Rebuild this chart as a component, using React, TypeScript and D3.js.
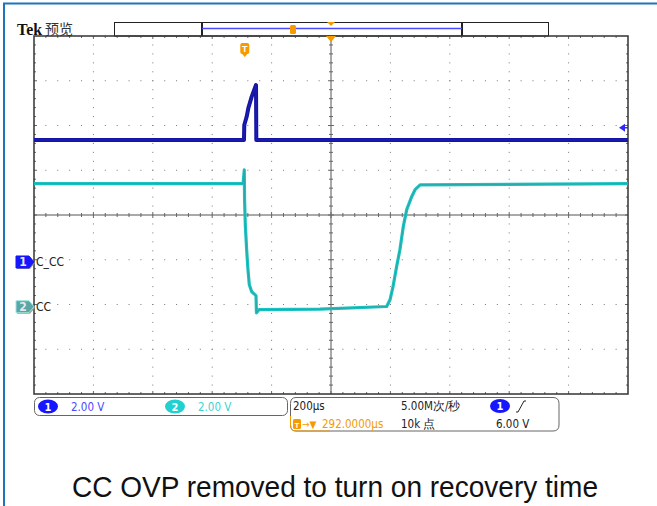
import React from "react";
import * as d3 from "d3";

// ---- data (time in µs relative to screen centre, volts) ----
const ch1Time = [-1000, -293, -292, -284, -278.5, -267, -252.5, -251.5, 1000];
const ch1Volt = [5.45, 5.45, 6.12, 6.49, 6.87, 7.39, 7.91, 5.45, 5.45];

const ch2Time = [-1000, -296, -292, -291, -288.5, -284, -279.5, -275, -267, -256, -252.5, -251, -242.5, -37, 187.5, 198.7, 209, 221, 232, 243.5, 255, 272, 283, 300, 1000];
const ch2Volt = [5.5, 5.5, 6.12, 4.78, 3.66, 2.55, 1.65, 0.98, 0.67, 0.54, 0.49, -0.27, -0.13, -0.11, 0.01, 0.31, 0.91, 1.8, 2.55, 3.59, 4.34, 4.93, 5.23, 5.45, 5.5];

const channelNames = ["C_CC", "CC"];
const voltsPerDiv = [2.0, 2.0];
const channelPosDiv = [-1.05, -2.05];
const triggerLevel = 6.0;
const triggerTimeUs = -292;
const timeDomain = [-1000, 1000];
const statusTexts = {
  ch1Scale: "2.00 V",
  ch2Scale: "2.00 V",
  timebase: "200µs",
  trigPos: "292.0000µs",
  sampleRate: "5.00M次/秒",
  record: "10k 点",
  trigLevel: "6.00 V",
};
const caption = "CC OVP removed to turn on recovery time";

const L = 34, R = 628, T = 36, B = 394;
const xDivs = 10, yDivs = 8;

export default function App() {
  const x = d3.scaleLinear().domain(timeDomain).range([L, R]);
  const yDiv = d3.scaleLinear().domain([-yDivs / 2, yDivs / 2]).range([B, T]);
  const yCh = (ch: number) => (v: number) => yDiv(v / voltsPerDiv[ch] + channelPosDiv[ch]);
  const y1 = yCh(0), y2 = yCh(1);

  const line1 = d3.line<number>().x((_, i) => x(ch1Time[i])).y((v) => y1(v));
  const line2 = d3.line<number>().x((_, i) => x(ch2Time[i])).y((v) => y2(v));

  const dx = (R - L) / xDivs;
  const dy = (B - T) / yDivs;
  const cx = (L + R) / 2;
  const cy = (T + B) / 2;

  const dots: JSX.Element[] = [];
  for (let k = 1; k < xDivs; k++) {
    if (k === xDivs / 2) continue;
    const gx = L + k * dx;
    for (let j = 1; j < yDivs * 5; j++) {
      dots.push(<rect key={`v${k}-${j}`} x={gx - 0.5} y={T + (j * dy) / 5 - 0.5} width={1} height={1} fill="#777" />);
    }
  }
  for (let k = 1; k < yDivs; k++) {
    if (k === yDivs / 2) continue;
    const gy = T + k * dy;
    for (let j = 1; j < xDivs * 5; j++) {
      dots.push(<rect key={`h${k}-${j}`} x={L + (j * dx) / 5 - 0.5} y={gy - 0.5} width={1} height={1} fill="#777" />);
    }
  }
  const ticks: JSX.Element[] = [];
  for (let j = 1; j < xDivs * 5; j++) {
    const tx = L + (j * dx) / 5;
    const len = j % 5 === 0 ? 3 : 2;
    ticks.push(<line key={`ct${j}`} x1={tx} x2={tx} y1={cy - len} y2={cy + len} stroke="#666" />);
    ticks.push(<line key={`tt${j}`} x1={tx} x2={tx} y1={T} y2={T + len} stroke="#666" />);
    ticks.push(<line key={`bt${j}`} x1={tx} x2={tx} y1={B - len} y2={B} stroke="#666" />);
  }
  for (let j = 1; j < yDivs * 5; j++) {
    const ty = T + (j * dy) / 5;
    const len = j % 5 === 0 ? 3 : 2;
    ticks.push(<line key={`cv${j}`} x1={cx - len} x2={cx + len} y1={ty} y2={ty} stroke="#666" />);
    ticks.push(<line key={`lt${j}`} x1={L} x2={L + len} y1={ty} y2={ty} stroke="#666" />);
    ticks.push(<line key={`rt${j}`} x1={R - len} x2={R} y1={ty} y2={ty} stroke="#666" />);
  }

  const trigX = x(triggerTimeUs);
  const trigY = y1(triggerLevel);
  const mono = "'DejaVu Sans Condensed', 'Liberation Sans', Arial, sans-serif";
  const orange = "#f59b00";

  const marker = (yy: number, fill: string, stroke: string, label: string) => (
    <g>
      <path d={`M${16},${yy - 6} L${29},${yy - 6} L${34},${yy} L${29},${yy + 6} L${16},${yy + 6} Z`} fill="#9a9a80" transform="translate(1,1)" />
      <path d={`M${16},${yy - 6} L${29},${yy - 6} L${34},${yy} L${29},${yy + 6} L${16},${yy + 6} Z`} fill={fill} stroke={stroke} strokeWidth={1} />
      <text x={23} y={yy + 4.5} fontSize={12} fontWeight="bold" fill="#e8e8e8" textAnchor="middle" fontFamily={mono}>{label}</text>
    </g>
  );

  return (
    <svg width={657} height={506} style={{ position: "fixed", left: 0, top: 0, background: "#fff" }} fontFamily="'Liberation Sans', Arial, sans-serif">
      <rect x={0} y={0} width={657} height={506} fill="#fff" />
      {/* outer blue frame */}
      <line x1={3} x2={657} y1={3.5} y2={3.5} stroke="#1f74c0" strokeWidth={2} />
      <line x1={4} x2={4} y1={3} y2={506} stroke="#1f74c0" strokeWidth={2} />

      {/* header */}
      <text x={17} y={35} fontSize={17} fontWeight="bold" fontFamily="'Liberation Serif', 'DejaVu Serif', serif" fill="#111" textLength={25} lengthAdjust="spacingAndGlyphs">Tek</text>
      <text x={45} y={34} fontSize={14} fontFamily="'Noto Sans CJK SC', sans-serif" fill="#333">预览</text>
      <rect x={114.5} y={22.5} width={434} height={13.5} fill="#fff" stroke="#222" strokeWidth={1} />
      <line x1={202} x2={202} y1={22} y2={36} stroke="#222" strokeWidth={2} />
      <line x1={462} x2={462} y1={22} y2={36} stroke="#222" strokeWidth={2} />
      <line x1={202} x2={462} y1={28.5} y2={28.5} stroke="#4a4aff" strokeWidth={1.4} />
      <rect x={290} y={25} width={6} height={9} rx={1.5} fill={orange} />
      <path d={`M${cx - 4},22 L${cx + 4},22 L${cx},26 Z`} fill={orange} />

      {/* graticule */}
      {dots}
      <line x1={L} x2={R} y1={cy} y2={cy} stroke="#8c8c8c" strokeWidth={1.5} />
      <line x1={cx} x2={cx} y1={T} y2={B} stroke="#8c8c8c" strokeWidth={1.5} />
      {ticks}
      <rect x={L} y={T} width={R - L} height={B - T} fill="none" stroke="#333" strokeWidth={1.5} />
      <path d={`M${cx - 5},${T} L${cx + 5},${T} L${cx},${T + 6} Z`} fill={orange} />

      {/* trigger marker T */}
      <g>
        <rect x={trigX - 4} y={43} width={9} height={11} rx={2} fill={orange} />
        <path d={`M${trigX - 2},54 L${trigX + 3},54 L${trigX + 0.5},57 Z`} fill={orange} />
        <text x={trigX + 0.5} y={52} fontSize={9} fontWeight="bold" fill="#fff" textAnchor="middle">T</text>
      </g>

      {/* traces */}
      <path d={line1(ch1Volt) || ""} fill="none" stroke="#1414a4" strokeWidth={4} strokeLinejoin="round" />
      <path d={line1(ch1Volt) || ""} fill="none" stroke="#2020b8" strokeWidth={1} strokeLinejoin="round" />
      <path d={line2(ch2Volt) || ""} fill="none" stroke="#1cc2c2" strokeWidth={3.2} strokeLinejoin="round" />
      <path d={line2(ch2Volt) || ""} fill="none" stroke="#26a8a8" strokeWidth={1} strokeLinejoin="round" />

      {/* trigger level arrow */}
      <path d={`M${619},${trigY} L${625},${trigY - 4} L${625},${trigY + 4} Z`} fill="#2a2aff" />
      <line x1={624} x2={628} y1={trigY} y2={trigY} stroke="#2a2aff" strokeWidth={1.5} />

      {/* channel markers */}
      {marker(y1(0), "#1616ff", "#1616ff", "1")}
      {marker(y2(0), "#5aa6a6", "#9ee4e4", "2")}
      <text x={36} y={y1(0) + 4.5} fontSize={12} fontFamily={mono} fill="#222">{channelNames[0]}</text>
      <text x={36} y={y2(0) + 4.5} fontSize={12} fontFamily={mono} fill="#222">{channelNames[1]}</text>

      {/* status bar */}
      <rect x={34.5} y={397.5} width={253} height={18} rx={5} fill="#fff" stroke="#666" />
      <ellipse cx={48} cy={406.5} rx={10} ry={7} fill="#1616ff" />
      <text x={48} y={410.5} fontSize={11} fontWeight="bold" fill="#fff" textAnchor="middle" fontFamily={mono}>1</text>
      <text x={71} y={410.5} fontSize={11.5} fill="#4a4aff" fontFamily={mono}>{statusTexts.ch1Scale}</text>
      <ellipse cx={175} cy={406.5} rx={10} ry={7} fill="#22d0d0" />
      <text x={175} y={410.5} fontSize={11} fontWeight="bold" fill="#fff" textAnchor="middle" fontFamily={mono}>2</text>
      <text x={198} y={410.5} fontSize={11.5} fill="#3cd4d4" fontFamily={mono}>{statusTexts.ch2Scale}</text>

      <path d="M296,397.5 L553,397.5 Q559,397.5 559,403.5 L559,425 Q559,431 553,431 L296,431 Q290.5,431 290.5,425 L290.5,403.5 Q290.5,397.5 296,397.5 Z" fill="#fff" stroke="#666" />
      <path d="M290.5,416 L290.5,425 Q290.5,431 296,431 L330,431" fill="none" stroke={orange} />
      <text x={293} y={410} fontSize={11.5} fill="#222" fontFamily={mono}>{statusTexts.timebase}</text>
      <rect x={293} y={419} width={8} height={10} rx={1.5} fill={orange} />
      <text x={297} y={427.5} fontSize={8} fontWeight="bold" fill="#fff" textAnchor="middle">T</text>
      <text x={302} y={428} fontSize={10} fill={orange} fontFamily={mono}>→▼</text>
      <text x={322} y={428} fontSize={11.5} fill={orange} fontFamily={mono}>{statusTexts.trigPos}</text>
      <text x={401} y={410} fontSize={11.5} fill="#222" fontFamily={mono}>{statusTexts.sampleRate}</text>
      <text x={401} y={428} fontSize={11.5} fill="#222" fontFamily={mono}>{statusTexts.record}</text>
      <ellipse cx={500} cy={406} rx={10} ry={7} fill="#1616ff" />
      <text x={500} y={410} fontSize={11} fontWeight="bold" fill="#fff" textAnchor="middle" fontFamily={mono}>1</text>
      <path d="M516,412 L518,412 L524,401 L526,401" fill="none" stroke="#222" strokeWidth={1} />
      <text x={496} y={428} fontSize={11.5} fill="#222" fontFamily={mono}>{statusTexts.trigLevel}</text>

      {/* caption */}
      <text x={72} y={497} fontSize={29} fill="#111" textLength={526} lengthAdjust="spacingAndGlyphs">{caption}</text>
    </svg>
  );
}
